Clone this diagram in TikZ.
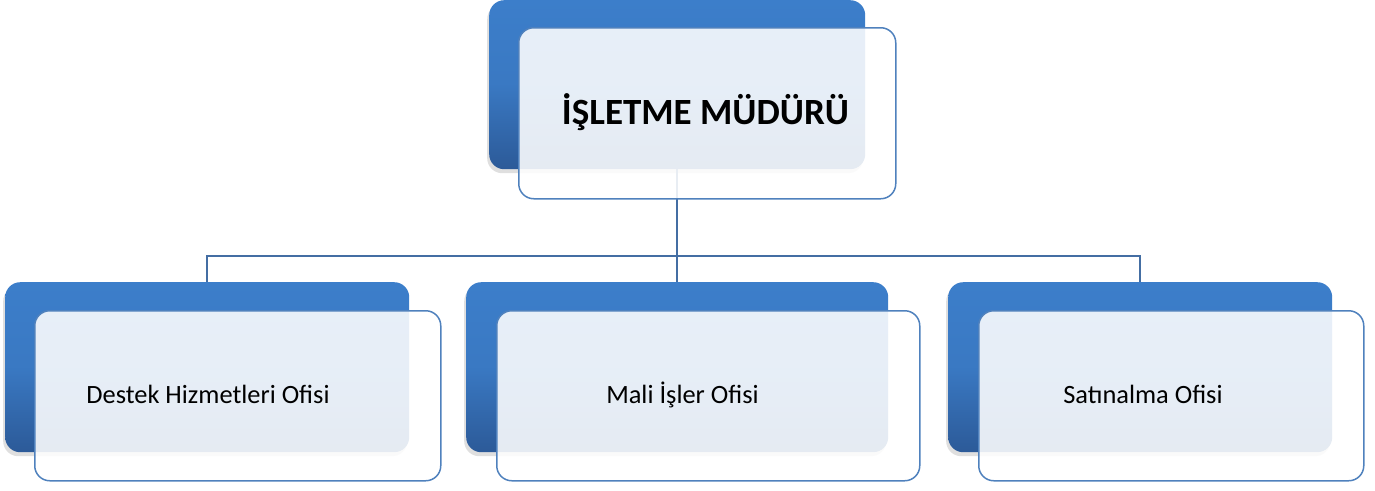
\documentclass[tikz,border=0pt]{standalone}
\usepackage{fontspec}
\setmainfont{Carlito}
\usetikzlibrary{shadows}
\definecolor{backtop}{RGB}{60,126,202}
\definecolor{backbot}{RGB}{44,90,152}
\definecolor{edgeblue}{RGB}{79,129,189}
\definecolor{linkblue}{RGB}{68,110,163}
\tikzset{
  backbox/.style={rectangle, rounded corners=15pt, inner sep=0pt, anchor=north west,
    top color=backtop, bottom color=backbot, middle color=backtop!85!backbot,
    drop shadow={shadow xshift=-2pt, shadow yshift=-4pt, opacity=0.25, fill=black!50}},
  frontbox/.style={rectangle, rounded corners=15pt, inner sep=0pt, anchor=north west,
    draw=edgeblue, line width=1.5pt, fill=white, fill opacity=0.88},
  link/.style={draw=linkblue, line width=1.5pt},
  titletext/.style={anchor=base, inner sep=0pt, font=\fontsize{37}{40}\selectfont\bfseries},
  childtext/.style={anchor=base, inner sep=0pt, font=\fontsize{26.4}{29}\selectfont}
}
\begin{document}
\begin{tikzpicture}[x=1pt, y=-1pt]
\useasboundingbox (0,0) rectangle (1375,490);
% back boxes
\node[backbox, minimum width=376pt, minimum height=169pt] (tb) at (489,0) {};
\node[backbox, minimum width=404pt, minimum height=170pt] (lb) at (5,282) {};
\node[backbox, minimum width=422pt, minimum height=170pt] (mb) at (466,282) {};
\node[backbox, minimum width=384pt, minimum height=170pt] (rb) at (948,282) {};
% connectors
\coordinate (bar) at (677,256);
\draw[link] (tb.south) -- (mb.north);
\draw[link] (lb.north) -- (lb.north |- bar) -- (rb.north |- bar) -- (rb.north);
% front boxes
\node[frontbox, minimum width=377pt, minimum height=171pt] (tf) at (518,27) {};
\node[frontbox, minimum width=406pt, minimum height=170pt] (lf) at (34,310) {};
\node[frontbox, minimum width=423pt, minimum height=170pt] (mf) at (496,310) {};
\node[frontbox, minimum width=385pt, minimum height=170pt] (rf) at (978,310) {};
% texts
\node[titletext] (tt) at (705.5,124) {İŞLETME MÜDÜRÜ};
\node[childtext] (lt) at (208,403) {Destek Hizmetleri Ofisi};
\node[childtext] (mt) at (682.5,403) {Mali İşler Ofisi};
\node[childtext] (rt) at (1143,403) {Satınalma Ofisi};
\end{tikzpicture}
\end{document}
